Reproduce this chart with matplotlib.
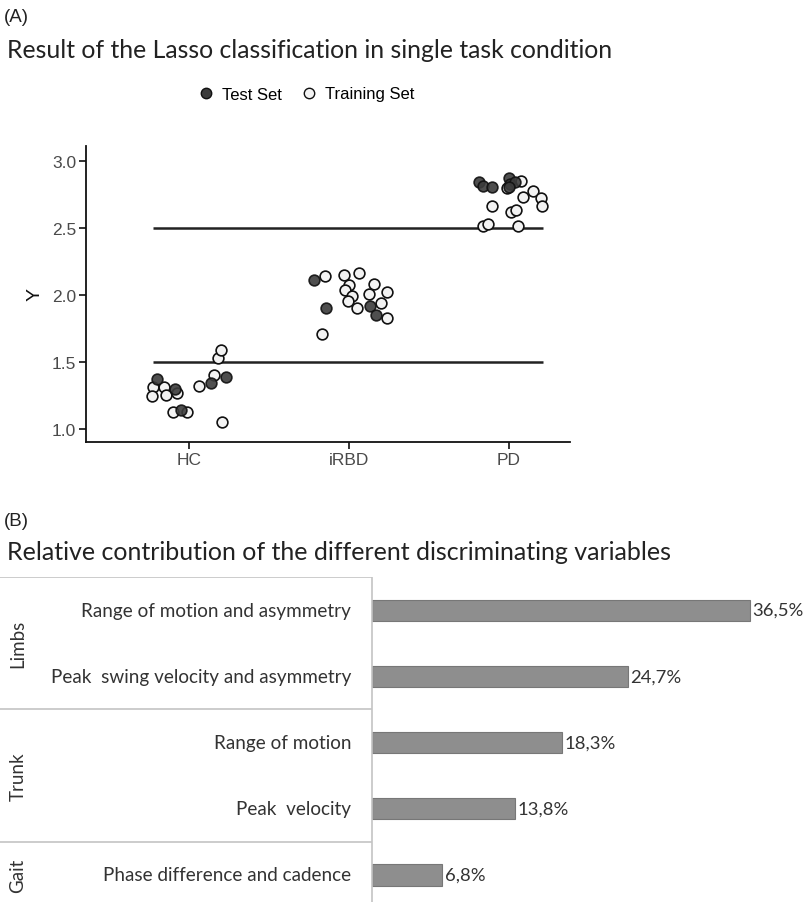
import numpy as np
import matplotlib.pyplot as plt
from matplotlib.lines import Line2D

# ── Panel A data: Lasso predicted Y per subject (jittered positions) ──
groups = ["HC", "iRBD", "PD"]

test_cat = [0, 0, 0, 0, 0,
            1, 1, 1, 1,
            2, 2, 2, 2, 2, 2, 2]
test_dx = [-0.198, -0.088, 0.137, 0.231, -0.050,
           -0.217, -0.144, 0.131, 0.167,
           -0.185, -0.160, -0.108, 0.002, 0.006, 0.038, 0.000]
test_y = [1.373, 1.300, 1.343, 1.390, 1.142,
          2.112, 1.900, 1.920, 1.853,
          2.841, 2.816, 2.804, 2.871, 2.828, 2.841, 2.804]

train_cat = [0] * 12 + [1] * 14 + [2] * 12
train_dx = [-0.223, -0.230, -0.154, -0.146, -0.073, -0.098, -0.010, 0.063,
            0.158, 0.179, 0.200, 0.206,
            -0.150, -0.171, -0.029, 0.064, 0.002, -0.025, 0.021, -0.004,
            0.052, 0.156, 0.127, 0.198, 0.236, 0.236,
            0.073, 0.152, 0.085, 0.198, 0.208, -0.108, 0.010, 0.044,
            -0.160, -0.129, 0.054, -0.015]
train_y = [1.311, 1.249, 1.311, 1.256, 1.266, 1.129, 1.129, 1.323,
           1.405, 1.527, 1.592, 1.055,
           2.144, 1.709, 2.151, 2.164, 2.077, 2.037, 1.995, 1.957,
           1.903, 2.082, 2.007, 1.940, 2.025, 1.826,
           2.853, 2.778, 2.729, 2.722, 2.662, 2.662, 2.617, 2.634,
           2.517, 2.530, 2.513, 2.800]

thresholds = [1.5, 2.5]
y_ticks = [1.0, 1.5, 2.0, 2.5, 3.0]

# ── Panel B data: relative contribution of variables ──
variables = ["Range of motion and asymmetry",
             "Peak  swing velocity and asymmetry",
             "Range of motion",
             "Peak  velocity",
             "Phase difference and cadence"]
contrib = [36.5, 24.7, 18.3, 13.8, 6.8]
contrib_labels = ["36,5%", "24,7%", "18,3%", "13,8%", "6,8%"]
body_parts = ["Limbs", "Trunk", "Gait"]
part_rows = [(0, 1), (2, 3), (4, 4)]

CAL = ["Lato", "DejaVu Sans"]
HEL = ["Liberation Sans", "DejaVu Sans"]

W, H = 807, 903
fig = plt.figure(figsize=(W / 100, H / 100), dpi=100)
fig.patch.set_facecolor("white")


def fx(px):
    return px / W


def fy(py):
    return 1 - py / H


# ════════════════════════════════════════════════════════════
#  Panel A
# ════════════════════════════════════════════════════════════
fig.text(fx(4), fy(18), "(A)", family=HEL, fontsize=13.5, va="center",
         color="#222222")
fig.text(fx(7), fy(50), "Result of the Lasso classification in single task condition",
         family=CAL, fontsize=17.8, va="center", color="#222222")

axA = fig.add_axes([fx(86), fy(443), fx(570) - fx(86), fy(147) - fy(443)])
axA.set_xlim(0.356, 3.381)
axA.set_ylim(0.903, 3.112)

for thr in thresholds:
    axA.hlines(thr, 0.775, 3.21, color="#222222", lw=1.8, zorder=1)

tx = np.array(train_cat) + 1 + np.array(train_dx)
sx = np.array(test_cat) + 1 + np.array(test_dx)
axA.scatter(tx, train_y, s=60, facecolor="#f3f3f3", edgecolor="#111111",
            linewidths=1.2, zorder=2)
axA.scatter(sx, test_y, s=60, facecolor="#3c3c3c", edgecolor="#111111",
            linewidths=1.2, zorder=3, alpha=0.9)

axA.set_xticks([1, 2, 3])
axA.set_xticklabels(groups)
axA.set_yticks(y_ticks)
axA.set_yticklabels([f"{v:.1f}" for v in y_ticks])
for s in ["top", "right"]:
    axA.spines[s].set_visible(False)
for s in ["left", "bottom"]:
    axA.spines[s].set_linewidth(1.3)
    axA.spines[s].set_color("#111111")
axA.tick_params(length=5, width=1.2, color="#111111", labelcolor="#4a4a4a",
                labelsize=12.5, pad=2)
for lab in axA.get_xticklabels() + axA.get_yticklabels():
    lab.set_family(HEL)
axA.set_ylabel("Y", family=HEL, fontsize=14, color="#111111", labelpad=6)

handles = [
    Line2D([], [], marker="o", ls="", markersize=7.5, markerfacecolor="#3c3c3c",
           markeredgecolor="#111111", label="Test Set"),
    Line2D([], [], marker="o", ls="", markersize=7.5, markerfacecolor="#f3f3f3",
           markeredgecolor="#111111", label="Training Set"),
]
fig.legend(handles=handles, loc="center", bbox_to_anchor=(fx(306), fy(95)),
           ncol=2, frameon=False, prop={"family": HEL, "size": 12},
           handletextpad=0.5, columnspacing=1.1, handlelength=1.0)

# ════════════════════════════════════════════════════════════
#  Panel B
# ════════════════════════════════════════════════════════════
fig.text(fx(4), fy(522), "(B)", family=HEL, fontsize=13.5, va="center",
         color="#222222")
fig.text(fx(7), fy(553), "Relative contribution of the different discriminating variables",
         family=CAL, fontsize=18, va="center", color="#222222")

axB = fig.add_axes([0, 0, 1, fy(578)])
px_per_pct = (750 - 372) / 36.5
axB.set_xlim(-372 / px_per_pct, (W - 372) / px_per_pct)
axB.set_ylim(4 + 27 / 66, -0.5)
axB.axis("off")

rows = np.arange(len(variables))
axB.barh(rows, contrib, height=0.32, color="#8e8e8e", edgecolor="#777777",
         lw=0.8, zorder=2)
for r, v, lab in zip(rows, contrib, contrib_labels):
    axB.text(v + 0.25, r, lab, family=CAL, fontsize=13.3, va="center",
             ha="left", color="#333333")
    axB.text(-2.0, r, variables[r], family=CAL, fontsize=13.6, va="center",
             ha="right", color="#333333")

left = axB.get_xlim()[0]
sep_color = "#c4c4c4"
axB.hlines(-0.5, left, 0, color=sep_color, lw=1.2)
for (a, b) in part_rows[:-1]:
    axB.hlines(b + 0.5, left, 0, color=sep_color, lw=1.2)
axB.vlines(0, -0.5, axB.get_ylim()[0], color=sep_color, lw=1.2)

for name, (a, b) in zip(body_parts, part_rows):
    axB.text(left + 18 / px_per_pct, (a + b) / 2, name, family=CAL,
             fontsize=13.5, rotation=90, va="center", ha="center",
             color="#333333")

fig.savefig("out.png", dpi=100, facecolor="white")
